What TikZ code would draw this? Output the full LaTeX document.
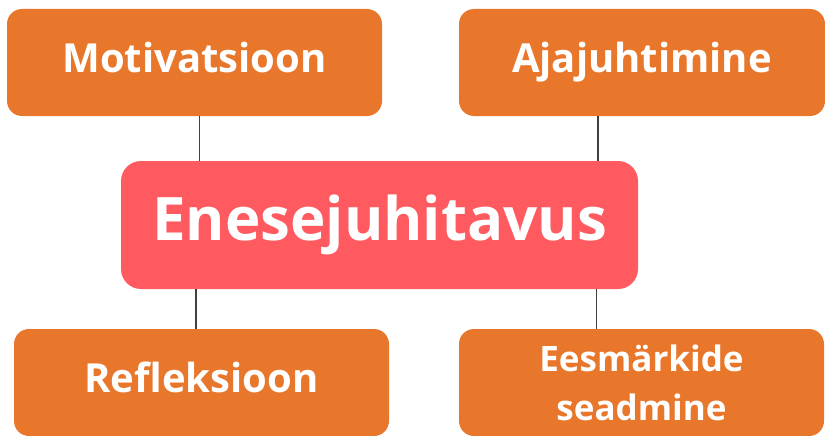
\documentclass[tikz,border=0pt]{standalone}
\usepackage{fontspec}
\setmainfont{Open Sans}
\usepackage{tikz}
\usetikzlibrary{positioning}
\definecolor{topicorange}{HTML}{E9772B}
\definecolor{corered}{HTML}{FF5A5F}

\begin{document}
\begin{tikzpicture}[
    x=1pt, y=1pt,
    node distance=160pt,
    topic/.style={
		rectangle,
		rounded corners=15pt,
		fill=topicorange,
		text=white,
		inner sep=0pt,
		minimum width=375pt,
		minimum height=107pt,
		text height=29pt,
		text depth=9pt,
		font=\bfseries\fontsize{40}{48}\selectfont
	},
	core/.style={
		rectangle,
		rounded corners=20pt,
		fill=corered,
		text=white,
		inner sep=0pt,
		minimum width=517pt,
		minimum height=128pt,
		font=\bfseries\fontsize{60}{72}\selectfont
	},
	link/.style={
		draw=black!75,
		line width=1.5pt
	}
  ]
  \useasboundingbox (0,0) rectangle (825,-436);
    % the central block first

  \node [core] (core) at (379.5,-225) {Enesejuhitavus};

  \node [topic, above of=core, xshift=-185pt, yshift=2.5pt] (motiv) {Motivatsioon};
  \node [topic, above of=core, xshift=262.5pt, yshift=2.5pt, minimum width=366pt] (ajaj) {Ajajuhtimine};
  \node [topic, below of=core, xshift=-178pt, yshift=2.5pt] (refl) {Refleksioon};
  \node [topic, below of=core, xshift=262pt, yshift=2.5pt, minimum width=365pt,
         text height=, text depth=, align=center,
         font=\bfseries\fontsize{35}{49}\selectfont] (eesm) {Eesmärkide\\seadmine};

  \draw [link] ([xshift=5pt]motiv.south) -- ([xshift=5pt]motiv.south |- core.north);
  \draw [link] ([xshift=-44pt]ajaj.south) -- ([xshift=-44pt]ajaj.south |- core.north);
  \draw [link] ([xshift=-5.5pt]refl.north) -- ([xshift=-5.5pt]refl.north |- core.south);
  \draw [link] ([xshift=-45pt]eesm.north) -- ([xshift=-45pt]eesm.north |- core.south);

\end{tikzpicture}
\end{document}
